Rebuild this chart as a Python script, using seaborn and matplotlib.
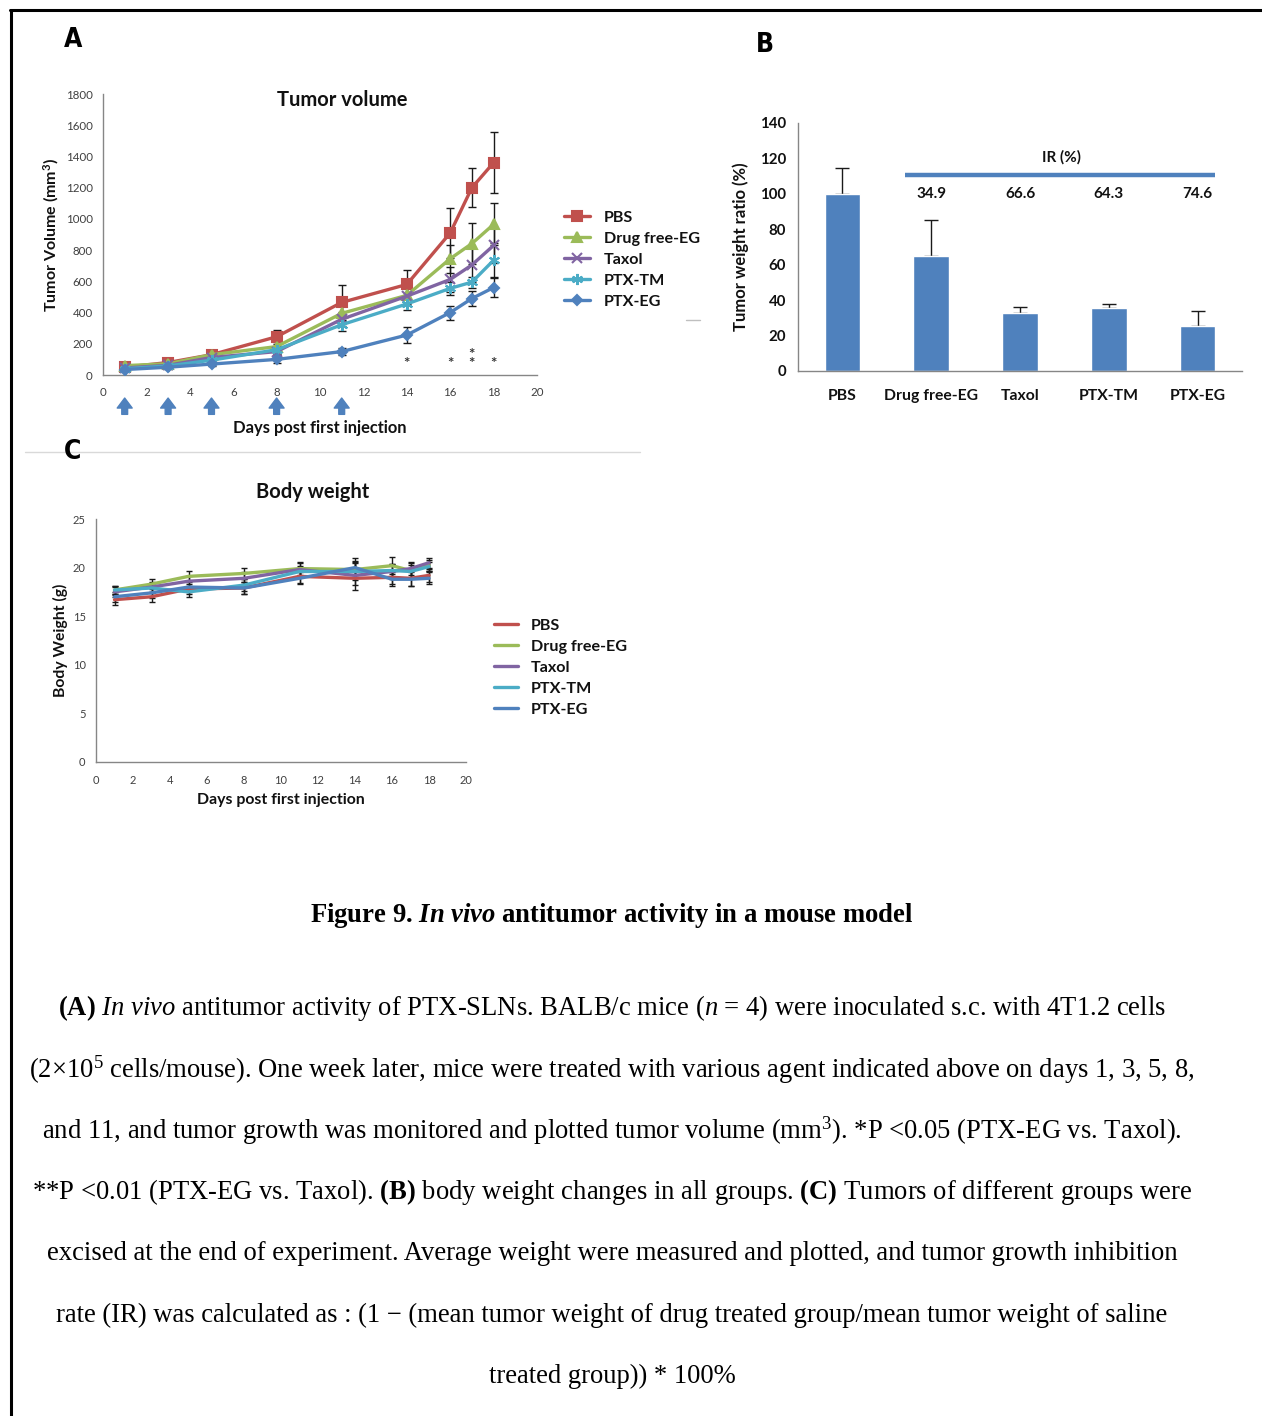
import numpy as np
import pandas as pd
import matplotlib
matplotlib.use("Agg")
import matplotlib.pyplot as plt
import seaborn as sns
from matplotlib.lines import Line2D

# ---------------- data ----------------
groups = ["PBS", "Drug free-EG", "Taxol", "PTX-TM", "PTX-EG"]
days = [1, 3, 5, 8, 11, 14, 16, 17, 18]

# Panel A: tumour volume (mm^3)
vol_pbs = [50, 80, 130, 245, 465, 580, 910, 1200, 1360]
vol_dfeg = [60, 72, 130, 182, 395, 510, 745, 842, 965]
vol_taxol = [45, 62, 112, 150, 357, 505, 612, 705, 830]
vol_ptxtm = [40, 58, 95, 162, 322, 455, 555, 595, 735]
vol_ptxeg = [35, 50, 70, 100, 150, 256, 400, 490, 560]
err_pbs = [12, 15, 20, 45, 110, 95, 160, 125, 195]
err_dfeg = [10, 10, 15, 30, 50, 60, 90, 130, 135]
err_taxol = [10, 10, 15, 25, 45, 50, 80, 110, 110]
err_ptxtm = [8, 10, 15, 25, 40, 40, 40, 35, 110]
err_ptxeg = [8, 10, 15, 25, 25, 54, 45, 47, 60]
star_days = [14, 16, 17, 18]
star_counts = [1, 1, 2, 1]
arrow_days = [1, 3, 5, 8, 11]

# Panel B: tumour weight ratio (%)
ratio = [100, 65, 33, 35.5, 25.5]
ratio_err = [14.5, 20, 3, 2.5, 8.5]
ir_labels = ["34.9", "66.6", "64.3", "74.6"]

# Panel C: body weight (g)
bw_pbs = [16.7, 17.0, 17.8, 17.9, 19.1, 18.9, 19.0, 18.9, 19.2]
bw_dfeg = [17.7, 18.3, 19.1, 19.4, 19.9, 19.8, 20.2, 19.7, 20.2]
bw_taxol = [17.5, 18.0, 18.6, 18.9, 19.8, 19.2, 19.6, 19.9, 20.5]
bw_ptxtm = [17.7, 17.9, 17.5, 18.2, 19.6, 19.6, 19.7, 19.6, 20.1]
bw_ptxeg = [17.0, 17.4, 18.0, 17.9, 18.9, 20.0, 18.8, 18.8, 18.9]
bwe_pbs = [0.5, 0.5, 0.5, 0.6, 0.7, 0.7, 0.7, 0.8, 0.7]
bwe_dfeg = [0.4, 0.5, 0.5, 0.6, 0.7, 0.8, 0.9, 0.8, 0.6]
bwe_taxol = [0.5, 0.5, 0.5, 0.6, 0.7, 1.5, 0.8, 0.7, 0.5]
bwe_ptxtm = [0.4, 0.5, 0.5, 0.6, 0.6, 0.9, 0.7, 0.7, 0.5]
bwe_ptxeg = [0.5, 0.5, 0.5, 0.6, 0.6, 1.0, 0.7, 0.7, 0.6]

vol = [vol_pbs, vol_dfeg, vol_taxol, vol_ptxtm, vol_ptxeg]
vol_err = [err_pbs, err_dfeg, err_taxol, err_ptxtm, err_ptxeg]
bw = [bw_pbs, bw_dfeg, bw_taxol, bw_ptxtm, bw_ptxeg]
bw_err = [bwe_pbs, bwe_dfeg, bwe_taxol, bwe_ptxtm, bwe_ptxeg]

# ---------------- style ----------------
sns.set_style("white")
plt.rcParams["font.family"] = ["Lato", "DejaVu Sans"]
plt.rcParams["mathtext.fontset"] = "custom"
plt.rcParams["mathtext.rm"] = "Liberation Serif"
plt.rcParams["mathtext.it"] = "Liberation Serif:italic"
plt.rcParams["mathtext.bf"] = "Liberation Serif:bold"
plt.rcParams["mathtext.sf"] = "Liberation Serif:italic:bold"

colors = {"PBS": "#C0504D", "Drug free-EG": "#9BBB59", "Taxol": "#8064A2",
          "PTX-TM": "#4BACC6", "PTX-EG": "#4F81BD"}
markers = {"PBS": "s", "Drug free-EG": "^", "Taxol": "x",
           "PTX-TM": (6, 2, 0), "PTX-EG": "D"}
msizes = {"PBS": 7, "Drug free-EG": 7, "Taxol": 7, "PTX-TM": 8, "PTX-EG": 5}
spine_c = "#868686"
tick_c = "#3F3F3F"

W, H = 1262, 1416
fig = plt.figure(figsize=(W / 100, H / 100), dpi=100)


def rect(l, t, r, b):
    return [l / W, 1 - b / H, (r - l) / W, (b - t) / H]


def style_axes(ax):
    for s in ["top", "right"]:
        ax.spines[s].set_visible(False)
    for s in ["left", "bottom"]:
        ax.spines[s].set_color(spine_c)
        ax.spines[s].set_linewidth(1.0)
    ax.tick_params(axis="both", direction="out", length=4, width=1,
                   color=spine_c, labelcolor=tick_c)


# ---------------- Panel A ----------------
axA = fig.add_axes(rect(103, 94, 537, 375))
dfA = pd.DataFrame({"day": days * 5,
                    "value": sum(vol, []),
                    "group": sum([[g] * len(days) for g in groups], [])})
for g, v, e in zip(groups, vol, vol_err):
    axA.errorbar(days, v, yerr=e, fmt="none", ecolor="#1a1a1a",
                 elinewidth=1.0, capsize=3, capthick=1.0, zorder=2)
n0 = len(axA.get_lines())
sns.lineplot(data=dfA, x="day", y="value", hue="group",
             hue_order=groups, palette=colors, linewidth=2.4, legend=False,
             ax=axA, zorder=3)
for line, g in zip(axA.get_lines()[n0:], groups):
    line.set_marker(markers[g])
    line.set_markersize(msizes[g])
    line.set_markerfacecolor(colors[g])
    line.set_markeredgecolor(colors[g])
    line.set_markeredgewidth(1.5)
axA.set_xlim(0, 20)
axA.set_ylim(0, 1800)
axA.set_xticks(range(0, 21, 2))
axA.set_yticks(range(0, 1801, 200))
style_axes(axA)
axA.tick_params(labelsize=8.3)
axA.tick_params(axis="x", pad=5)
axA.set_xlabel("Days post first injection", fontsize=11.9, fontweight="bold",
               color="#111111")
axA.xaxis.set_label_coords(0.5, (375 - 420) / 281)
axA.set_ylabel("Tumor Volume (mm$^\\mathregular{3}$)", fontsize=11.5,
               fontweight="bold", color="#111111")
axA.yaxis.set_label_coords((61 - 103) / 434, 0.5)
axA.text(0.551, 0.979, "Tumor volume", transform=axA.transAxes, ha="center",
         va="center", fontsize=14.5, fontweight="bold", color="#111111")
for d, n in zip(star_days, star_counts):
    axA.text(d, 28, "\n".join(["*"] * n), ha="center", va="bottom",
             fontsize=11, color="#333333", fontweight="bold",
             linespacing=0.55)
for d in arrow_days:
    axA.annotate("", xy=(d, -0.082), xytext=(d, -0.14),
                 xycoords=("data", "axes fraction"),
                 textcoords=("data", "axes fraction"),
                 arrowprops=dict(arrowstyle="simple,head_width=0.9,head_length=0.6,tail_width=0.35",
                                 color="#4F81BD", mutation_scale=12,
                                 shrinkA=0, shrinkB=0),
                 annotation_clip=False)
handlesA = [Line2D([], [], color=colors[g], marker=markers[g],
                   markersize=msizes[g], markeredgecolor=colors[g],
                   markeredgewidth=1.5, linewidth=2.4) for g in groups]
legA = axA.legend(handlesA, groups, loc="upper left",
                  bbox_to_anchor=(558 / W, 1 - 204 / H),
                  bbox_transform=fig.transFigure, frameon=False,
                  fontsize=11.6, handlelength=1.6, handletextpad=0.85,
                  labelspacing=0.42, borderaxespad=0)
for t in legA.get_texts():
    t.set_fontweight("bold")
    t.set_color("#111111")

# ---------------- Panel B ----------------
axB = fig.add_axes(rect(798, 123, 1242, 371))
dfB = pd.DataFrame({"group": groups, "ratio": ratio})
sns.barplot(data=dfB, x="group", y="ratio", order=groups, color="#4F81BD",
            saturation=1, width=0.4, errorbar=None, ax=axB, zorder=2)
axB.errorbar(range(len(groups)), ratio,
             yerr=[np.zeros(len(ratio)), ratio_err], fmt="none",
             ecolor="#1a1a1a", elinewidth=1.0, capsize=5, capthick=1.0,
             zorder=1)
axB.set_xlim(-0.5, 4.5)
axB.set_ylim(0, 140)
axB.set_yticks(range(0, 141, 20))
style_axes(axB)
axB.set_xticks(range(5))
axB.set_xticklabels(groups)
axB.set_xticks(np.arange(-0.5, 5, 1), minor=True)
axB.tick_params(axis="x", which="major", length=0, pad=13)
axB.tick_params(axis="x", which="minor", length=5, width=1, color=spine_c)
axB.tick_params(axis="y", length=5)
for lab in axB.get_xticklabels():
    lab.set_fontweight("bold")
    lab.set_fontsize(11.3)
    lab.set_color("#111111")
for lab in axB.get_yticklabels():
    lab.set_fontweight("bold")
    lab.set_fontsize(10.8)
    lab.set_color("#111111")
axB.set_xlabel("")
axB.set_ylabel("Tumor weight ratio (%)", fontsize=12, fontweight="bold",
               color="#111111")
axB.yaxis.set_label_coords((749 - 798) / 444, 0.5)
axB.plot([0.70, 4.2], [110.6, 110.6], color="#4F81BD", linewidth=3.2,
         solid_capstyle="butt", clip_on=False)
axB.text(2.47, 120.6, "IR (%)", ha="center", va="center", fontsize=11,
         fontweight="bold", color="#111111")
for i, lab in enumerate(ir_labels):
    axB.text(i + 1, 99.8, lab, ha="center", va="center", fontsize=11,
             fontweight="bold", color="#111111")

# ---------------- Panel C ----------------
axC = fig.add_axes(rect(96, 519, 466, 762))
dfC = pd.DataFrame({"day": days * 5,
                    "value": sum(bw, []),
                    "group": sum([[g] * len(days) for g in groups], [])})
for g, v, e in zip(groups, bw, bw_err):
    axC.errorbar(days, v, yerr=e, fmt="none", ecolor="#1a1a1a",
                 elinewidth=1.0, capsize=2.5, capthick=1.0, zorder=1)
sns.lineplot(data=dfC, x="day", y="value", hue="group", hue_order=groups,
             palette=colors, linewidth=2.4, legend=False, ax=axC, zorder=3)
axC.set_xlim(0, 20)
axC.set_ylim(0, 25)
axC.set_xticks(range(0, 21, 2))
axC.set_yticks(range(0, 26, 5))
style_axes(axC)
axC.tick_params(labelsize=8)
axC.tick_params(axis="x", pad=5)
axC.set_xlabel("Days post first injection", fontsize=11.4, fontweight="bold",
               color="#111111")
axC.xaxis.set_label_coords(0.5, (762 - 793) / 243)
axC.set_ylabel("Body Weight (g)", fontsize=11.3, fontweight="bold",
               color="#111111")
axC.yaxis.set_label_coords((68 - 96) / 370, 0.5)
axC.text((313 - 96) / 370, (762 - 492) / 243, "Body weight",
         transform=axC.transAxes, ha="center", va="center", fontsize=14.5,
         fontweight="bold", color="#111111")
handlesC = [Line2D([], [], color=colors[g], linewidth=2.4) for g in groups]
legC = axC.legend(handlesC, groups, loc="upper left",
                  bbox_to_anchor=(488 / W, 1 - 612 / H),
                  bbox_transform=fig.transFigure, frameon=False,
                  fontsize=11.6, handlelength=1.45, handletextpad=0.8,
                  labelspacing=0.42, borderaxespad=0)
for t in legC.get_texts():
    t.set_fontweight("bold")
    t.set_color("#111111")

# ---------------- decorations ----------------
def fx(px):
    return px / W


def fy(py):
    return 1 - py / H


fig.add_artist(Line2D([fx(11), fx(11)], [fy(10), 0], color="black", lw=2.2))
fig.add_artist(Line2D([fx(10), 1], [fy(10), fy(10)], color="black", lw=2.2))
fig.add_artist(Line2D([fx(25), fx(640)], [fy(452), fy(452)],
                      color="#D9D9D9", lw=1.0))
fig.add_artist(Line2D([fx(686), fx(700)], [fy(320), fy(320)],
                      color="#BFBFBF", lw=1.0))

for lab, x, y in [("A", 73, 40), ("B", 765, 45), ("C", 73, 452)]:
    fig.text(fx(x), fy(y), lab, ha="center", va="center", fontsize=19,
             fontweight="bold", family=["DejaVu Sans"],
             fontstretch="condensed", color="black")

serif = ["Liberation Serif", "DejaVu Serif"]
fig.text(fx(612), fy(916),
         r"Figure 9. $\mathsf{In\ vivo}$ antitumor activity in a mouse model",
         ha="center", va="center", fontsize=19.2, family=serif,
         fontweight="bold", color="black")

caption = [
    (1008, r"$\mathbf{(A)}$ $\mathit{In\ vivo}$ antitumor activity of PTX-SLNs. BALB/c mice ($\mathit{n}$ = 4) were inoculated s.c. with 4T1.2 cells"),
    (1070, r"(2×10$^5$ cells/mouse). One week later, mice were treated with various agent indicated above on days 1, 3, 5, 8,"),
    (1131, r"and 11, and tumor growth was monitored and plotted tumor volume (mm$^3$). *P <0.05 (PTX-EG vs. Taxol)."),
    (1192, r"**P <0.01 (PTX-EG vs. Taxol). $\mathbf{(B)}$ body weight changes in all groups. $\mathbf{(C)}$ Tumors of different groups were"),
    (1253, "excised at the end of experiment. Average weight were measured and plotted, and tumor growth inhibition"),
    (1315, "rate (IR) was calculated as : (1 \u2212 (mean tumor weight of drug treated group/mean tumor weight of saline"),
    (1376, "treated group)) * 100%"),
]
for y, s in caption:
    fig.text(fx(612), fy(y), s, ha="center", va="center", fontsize=19.2,
             family=serif, color="black")

fig.savefig("out.png", dpi=100, facecolor="white")
